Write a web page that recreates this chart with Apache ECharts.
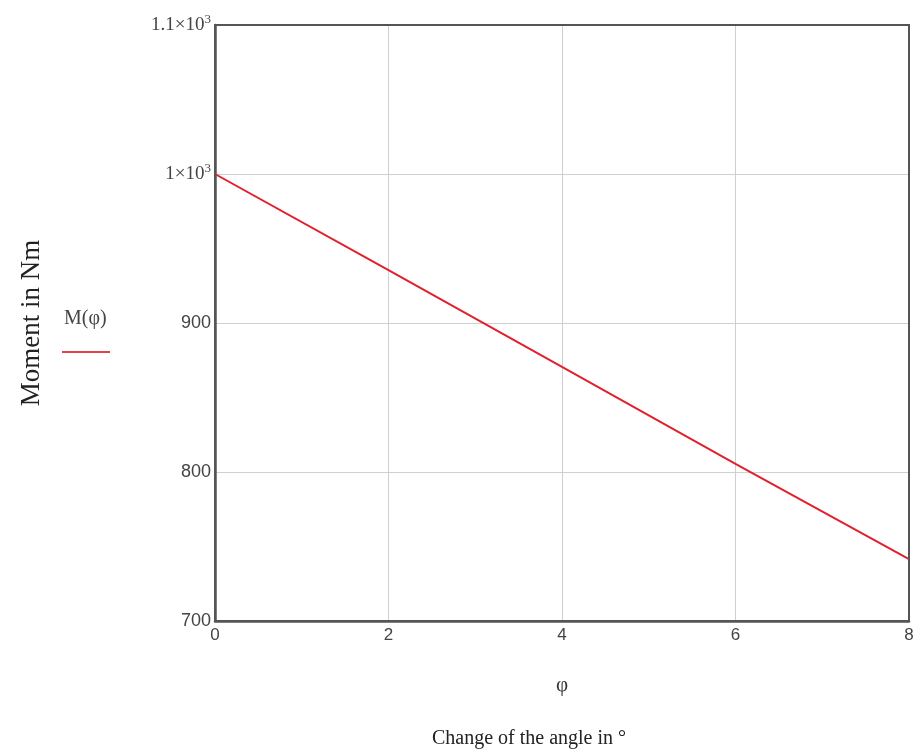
<!DOCTYPE html>
<html>
<head>
<meta charset="utf-8">
<script src="https://cdn.jsdelivr.net/npm/echarts@6/dist/echarts.min.js"></script>
<style>html,body{margin:0;padding:0;background:#fff;}#c{width:922px;height:756px;}</style>
</head>
<body>
<div id="c"></div>
<script>
var phi = [0, 2, 4, 6, 8];
var moment = [1000, 935.5, 870.5, 805.5, 741.5];
var xTicks = [0, 2, 4, 6, 8];
var yTickLabels = {700: '700', 800: '800', 900: '900', 1000: '{m|1×10}{s|3}', 1100: '{m|1.1×10}{s|3}'};

var chart = echarts.init(document.getElementById('c'));
var serif = '"Liberation Serif", "Times New Roman", serif';
var sans = '"Liberation Sans", Arial, sans-serif';
chart.setOption({
  animation: false,
  backgroundColor: '#fff',
  grid: {left: 215, right: 13, top: 25, bottom: 135, show: true, borderColor: '#555', borderWidth: 2, backgroundColor: 'transparent', z: 10},
  title: {
    text: 'Change of the angle in °',
    left: 524, top: 724, textAlign: 'center',
    textStyle: {fontFamily: serif, fontSize: 20, fontWeight: 'normal', color: '#222'}
  },
  xAxis: {
    type: 'value', min: 0, max: 8, interval: 2,
    name: 'φ', nameLocation: 'middle', nameGap: 54,
    nameTextStyle: {fontFamily: serif, fontSize: 21, color: '#333'},
    axisLine: {show: true, lineStyle: {color: '#555', width: 2.5}},
    axisTick: {show: false},
    axisLabel: {fontFamily: sans, fontSize: 17, color: '#444', margin: 6},
    splitLine: {show: true, lineStyle: {color: '#cfcfcf', width: 1}}
  },
  yAxis: {
    type: 'value', min: 700, max: 1100, interval: 100,
    name: 'Moment in Nm', nameLocation: 'middle', nameGap: 170,
    nameTextStyle: {fontFamily: serif, fontSize: 27, color: '#222'},
    axisLine: {show: true, lineStyle: {color: '#555', width: 2.5}},
    axisTick: {show: false},
    axisLabel: {
      fontFamily: sans, fontSize: 18, color: '#444', margin: 4,
      formatter: function (v) { return yTickLabels[v] || String(v); },
      rich: {
        m: {fontFamily: serif, fontSize: 19, color: '#444'},
        s: {fontFamily: serif, fontSize: 13, color: '#444', verticalAlign: 'top', padding: [0, 0, 10, 0]}
      }
    },
    splitLine: {show: true, lineStyle: {color: '#cfcfcf', width: 1}}
  },
  graphic: [
    {type: 'text', left: 64, top: 309, style: {text: 'M(φ)', font: '20px ' + serif, fill: '#444'}},
    {type: 'line', shape: {x1: 62, y1: 352, x2: 110, y2: 352}, style: {stroke: '#e8404a', lineWidth: 2}}
  ],
  series: [{
    type: 'line',
    data: phi.map(function (p, i) { return [p, moment[i]]; }),
    showSymbol: false,
    lineStyle: {color: '#e0202c', width: 2},
    z: 5
  }]
});
</script>
</body>
</html>
